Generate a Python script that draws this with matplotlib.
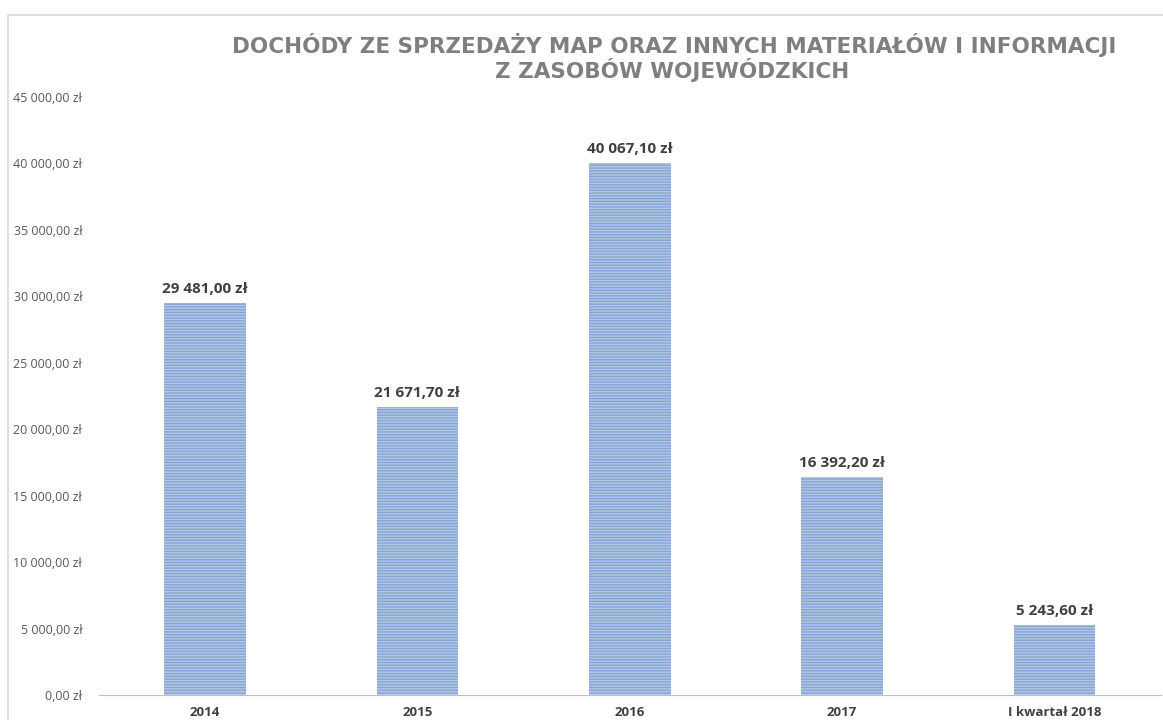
import matplotlib
matplotlib.use("Agg")
import matplotlib.pyplot as plt
from matplotlib.patches import Rectangle

plt.rcParams['font.family'] = ['Open Sans', 'DejaVu Sans']
plt.rcParams['hatch.linewidth'] = 1.0

# Dane
kategorie = ["2014", "2015", "2016", "2017", "I kwartał 2018"]
dochody = [29481.00, 21671.70, 40067.10, 16392.20, 5243.60]
etykiety = ["29 481,00 zł", "21 671,70 zł", "40 067,10 zł", "16 392,20 zł", "5 243,60 zł"]
y_ticks = [0, 5000, 10000, 15000, 20000, 25000, 30000, 35000, 40000, 45000]
y_labels = ["0,00 zł", "5 000,00 zł", "10 000,00 zł", "15 000,00 zł", "20 000,00 zł",
            "25 000,00 zł", "30 000,00 zł", "35 000,00 zł", "40 000,00 zł", "45 000,00 zł"]

fig = plt.figure(figsize=(11.63, 7.2), dpi=100)
ax = fig.add_axes([0.085, 0.0347, 0.913, 0.8306])

# ramka wykresu
fig.patches.append(Rectangle((8 / 1163, -0.1), 1.2, 1 - 15 / 720 + 0.1,
                             transform=fig.transFigure, fill=False,
                             edgecolor='#d9d9d9', linewidth=1.2))

x = range(len(kategorie))
ax.bar(x, dochody, width=0.385, color='#b3c7e6', edgecolor='#86a4d4',
       hatch='------', linewidth=0)

for i, (v, t) in enumerate(zip(dochody, etykiety)):
    ax.annotate(t, (i, v), xytext=(0, 5), textcoords='offset points',
                ha='center', va='bottom', fontsize=11, fontweight='bold', color='#404040')

ax.set_xlim(-0.5, 4.5)
ax.set_ylim(0, 45000)
ax.set_yticks(y_ticks)
ax.set_yticklabels(y_labels, fontsize=9, color='#595959')
ax.set_xticks(list(x))
ax.set_xticklabels(kategorie, fontsize=9.5, fontweight='bold', color='#404040')
ax.tick_params(axis='both', length=0)
ax.tick_params(axis='y', pad=12)
ax.tick_params(axis='x', pad=8)

for s in ['top', 'right', 'left']:
    ax.spines[s].set_visible(False)
ax.spines['bottom'].set_color('#bfbfbf')

fig.text(0.580, 0.938, "DOCHÓDY ZE SPRZEDAŻY MAP ORAZ INNYCH MATERIAŁÓW I INFORMACJI",
         ha='center', va='center', fontsize=15.5, fontweight='bold', color='#7f7f7f',
         family='DejaVu Sans')
fig.text(0.578, 0.903, "Z ZASOBÓW WOJEWÓDZKICH",
         ha='center', va='center', fontsize=15.5, fontweight='bold', color='#7f7f7f',
         family='DejaVu Sans')

fig.savefig("out.png", dpi=100)
